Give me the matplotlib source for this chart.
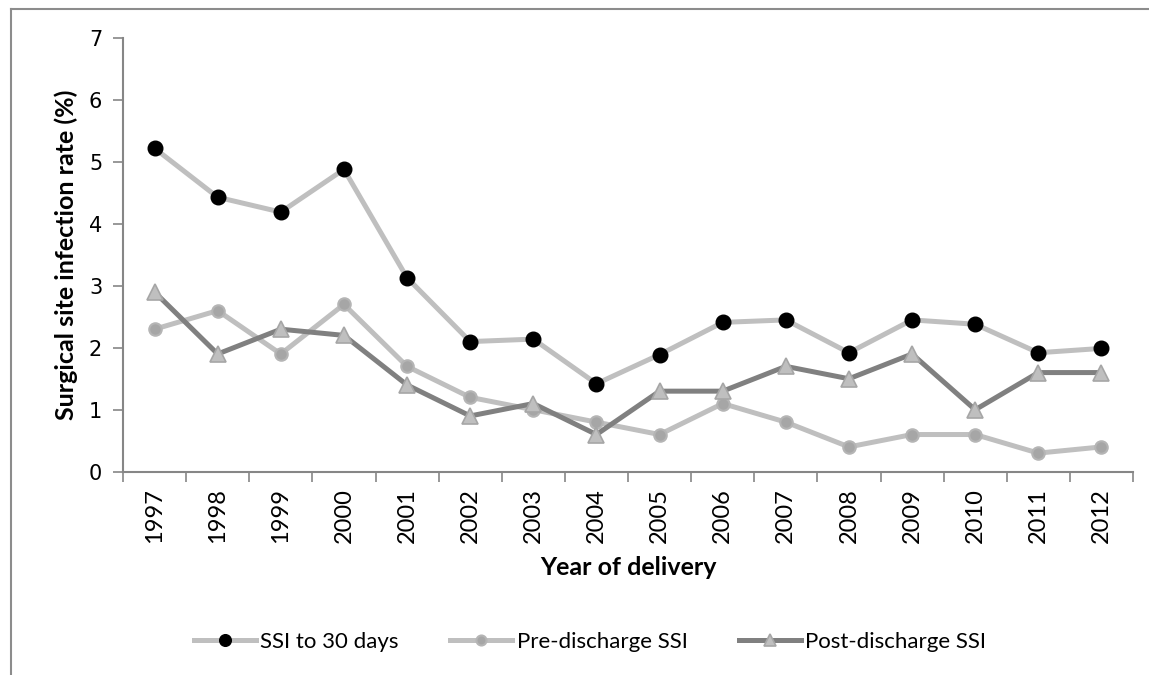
import numpy as np
import matplotlib.pyplot as plt
from matplotlib.lines import Line2D

years = ["1997", "1998", "1999", "2000", "2001", "2002", "2003", "2004",
         "2005", "2006", "2007", "2008", "2009", "2010", "2011", "2012"]
ssi_30 = [5.22, 4.43, 4.19, 4.88, 3.13, 2.10, 2.14, 1.42,
          1.89, 2.41, 2.45, 1.92, 2.45, 2.38, 1.92, 1.99]
pre_discharge = [2.3, 2.6, 1.9, 2.7, 1.7, 1.2, 1.0, 0.8,
                 0.6, 1.1, 0.8, 0.4, 0.6, 0.6, 0.3, 0.4]
post_discharge = [2.9, 1.9, 2.3, 2.2, 1.4, 0.9, 1.1, 0.6,
                  1.3, 1.3, 1.7, 1.5, 1.9, 1.0, 1.6, 1.6]

W, H = 1149, 675
fig = plt.figure(figsize=(W / 100, H / 100), dpi=100)
ax = fig.add_axes([123 / W, 1 - 471.7 / H, (1133 - 123) / W, (471.7 - 38) / H])

x = np.arange(len(years))
ax.plot(x, ssi_30, color="#BFBFBF", lw=3.6, marker="o", ms=10.5,
        mfc="black", mec="black", label="SSI to 30 days", zorder=3)
ax.plot(x, pre_discharge, color="#BFBFBF", lw=3.6, marker="o", ms=9,
        mfc="#A6A6A6", mec="#B5B5B5", mew=1.5, label="Pre-discharge SSI", zorder=2)
ax.plot(x, post_discharge, color="#808080", lw=3.6, marker="^", ms=11,
        mfc="#BFBFBF", mec="#A6A6A6", mew=1.2, label="Post-discharge SSI", zorder=2.5)

ax.set_xlim(-0.5, len(years) - 0.5)
ax.set_ylim(0, 7)
ax.set_yticks(range(8))
ax.set_xticks(x)
ax.set_xticklabels(years, rotation=90, fontsize=17, family="Lato")
ax.set_xticks(np.arange(-0.5, len(years)), minor=True)
ax.tick_params(axis="x", which="major", length=0, pad=12)
ax.tick_params(axis="x", which="minor", length=7, color="#868686", width=1.2)
ax.tick_params(axis="y", length=7, color="#868686", width=1.2, labelsize=15, pad=8)

for s in ["top", "right"]:
    ax.spines[s].set_visible(False)
for s in ["left", "bottom"]:
    ax.spines[s].set_color("#868686")
    ax.spines[s].set_linewidth(1.5)

ax.set_xlabel("Year of delivery", fontsize=18, fontweight="bold", family="Lato", labelpad=9)
ax.set_ylabel("Surgical site infection rate (%)", fontsize=18, fontweight="bold",
              family="Lato", labelpad=8)

ax.legend(loc="center", bbox_to_anchor=(590 / W, 1 - 642 / H), bbox_transform=fig.transFigure,
          ncol=3, frameon=False, handlelength=2.8, columnspacing=2.3, handletextpad=0.2,
          markerscale=0.8, prop={"family": "Lato", "size": 16})

# outer chart frame (only top and left visible)
fig.add_artist(Line2D([11 / W, 11 / W], [0, 1 - 9 / H], color="#8C8C8C", lw=1.5))
fig.add_artist(Line2D([11 / W, 1], [1 - 9 / H, 1 - 9 / H], color="#8C8C8C", lw=1.5))

fig.savefig("out.png", dpi=100)
